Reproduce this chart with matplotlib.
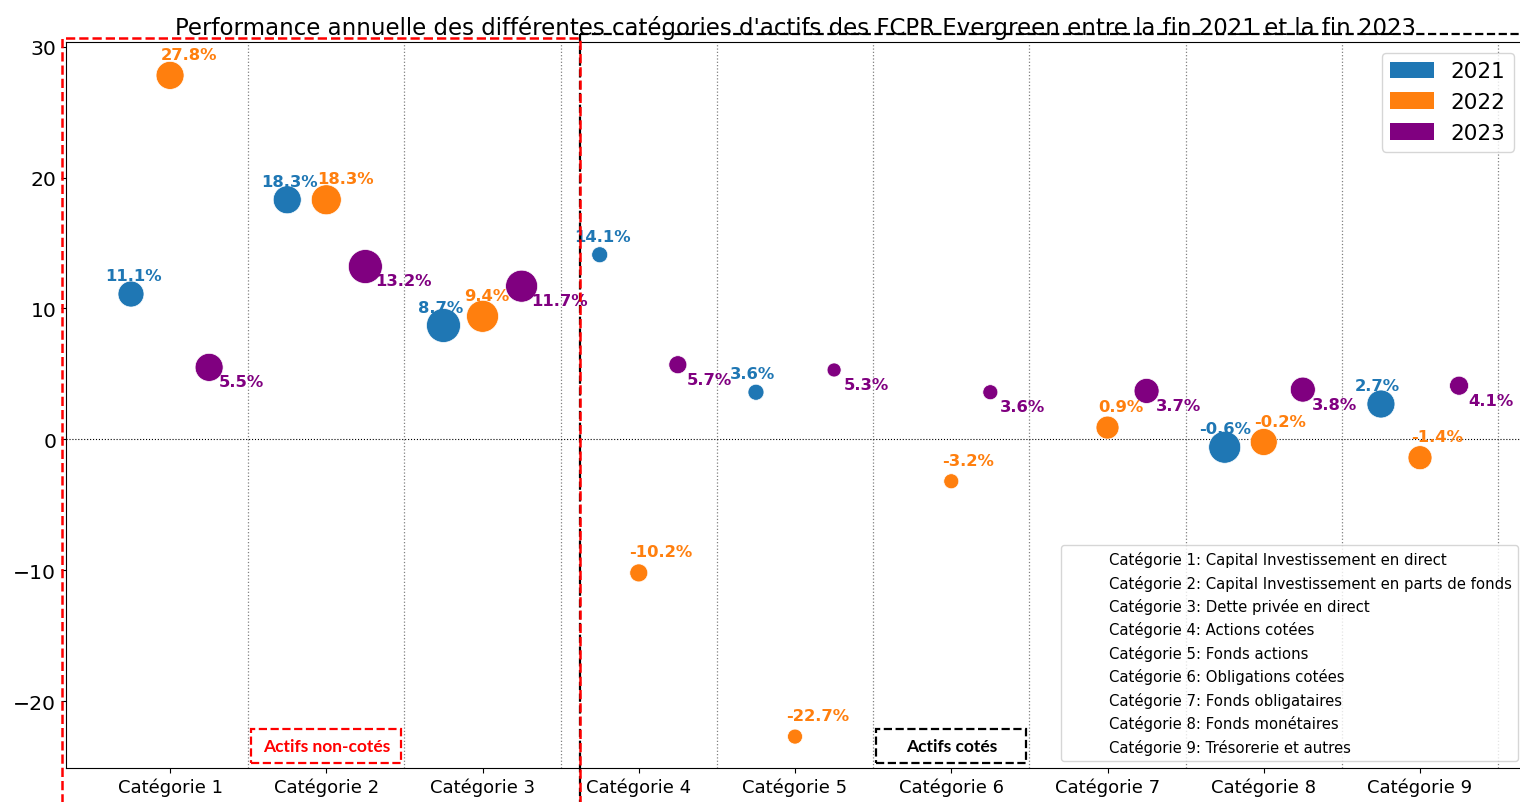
import numpy as np
import matplotlib
matplotlib.use("Agg")
import matplotlib.pyplot as plt
from matplotlib.patches import Rectangle, Patch
from matplotlib.lines import Line2D

categories = ["Catégorie 1", "Catégorie 2", "Catégorie 3", "Catégorie 4", "Catégorie 5",
              "Catégorie 6", "Catégorie 7", "Catégorie 8", "Catégorie 9"]
category_names = ["Capital Investissement en direct",
                  "Capital Investissement en parts de fonds",
                  "Dette privée en direct",
                  "Actions cotées",
                  "Fonds actions",
                  "Obligations cotées",
                  "Fonds obligataires",
                  "Fonds monétaires",
                  "Trésorerie et autres"]
years = ["2021", "2022", "2023"]
perf_2021 = [11.1, 18.3, 8.7, 14.1, 3.6, np.nan, np.nan, -0.6, 2.7]
perf_2022 = [27.8, 18.3, 9.4, -10.2, -22.7, -3.2, 0.9, -0.2, -1.4]
perf_2023 = [5.5, 13.2, 11.7, 5.7, 5.3, 3.6, 3.7, 3.8, 4.1]
# bubble weights (relative diameters)
weight_2021 = [26, 28, 34, 16, 16, np.nan, np.nan, 32, 28]
weight_2022 = [28, 30, 32, 18, 15, 15, 23, 27, 24]
weight_2023 = [28, 34, 32, 18, 14, 15, 25, 25, 19]

colors = ["#1f77b4", "#ff7f0e", "purple"]

W, H = 1520, 803
fig = plt.figure(figsize=(W / 100, H / 100), dpi=100)
ax = fig.add_axes([66 / W, (H - 769) / H, (1525 - 66) / W, (769 - 43) / H])

x = np.arange(len(categories))
offsets = [-0.25, 0.0, 0.25]
series = [perf_2021, perf_2022, perf_2023]
weights = [weight_2021, weight_2022, weight_2023]

for i, (vals, wts, col, off) in enumerate(zip(series, weights, colors, offsets)):
    vals = np.array(vals, dtype=float)
    wts = np.array(wts, dtype=float)
    sizes = (wts * 0.72) ** 2
    ax.scatter(x + off, vals, s=sizes, color=col, edgecolors="white",
               linewidths=0.5, zorder=3)
    for xi, v in zip(x + off, vals):
        if np.isnan(v):
            continue
        lab = f"{v:.1f}%"
        if i == 0:
            ax.text(xi - 0.165, v + 1.4, lab, color=col, fontsize=11.8,
                    fontweight="bold", ha="left", va="center", zorder=4)
        elif i == 1:
            dx = -0.115 if abs(v - 9.4) < 1e-6 else -0.06
            ax.text(xi + dx, v + 1.6, lab, color=col, fontsize=11.8,
                    fontweight="bold", ha="left", va="center", zorder=4)
        else:
            ax.text(xi + 0.06, v - 1.1, lab, color=col, fontsize=11.8,
                    fontweight="bold", ha="left", va="center", zorder=4)

for b in np.arange(0.5, len(categories), 1.0):
    ax.axvline(b, color="gray", linestyle=":", linewidth=0.9, zorder=1)
ax.axhline(0, color="black", linestyle=":", linewidth=0.8, zorder=1)

ax.set_xlim(-0.666, 8.672)
ax.set_ylim(-25.1, 30.35)
ax.set_xticks(x)
ax.set_xticklabels(categories, fontsize=13)
ax.set_yticks([-20, -10, 0, 10, 20, 30])
ax.tick_params(axis="y", labelsize=14.7)
ax.set_title("Performance annuelle des différentes catégories d'actifs des FCPR Evergreen entre la fin 2021 et la fin 2023",
             fontsize=16.5)

# small group label boxes
for ci, txt, col in [(1, "Actifs non-cotés", "red"), (5, "Actifs cotés", "black")]:
    ax.add_patch(Rectangle((ci - 0.48, -24.7), 0.96, 2.6, fill=False,
                           edgecolor=col, linestyle="--", linewidth=1.6, zorder=2))
    ax.text(ci, -23.4, txt, color=col, fontsize=12.5, fontweight="bold",
            family="Lato", ha="center", va="center", zorder=4)

# large dashed group frames (figure coords)
def fx(px):
    return px / W

def fy(py):
    return (H - py) / H

fig.add_artist(Line2D([fx(580), fx(1530)], [fy(35), fy(35)], color="black",
                      linestyle="--", linewidth=1.6, transform=fig.transFigure))
fig.add_artist(Line2D([fx(580), fx(580)], [fy(35), fy(810)], color="black",
                      linestyle="--", linewidth=1.6, transform=fig.transFigure))
fig.add_artist(Line2D([fx(62), fx(62), fx(580), fx(580)],
                      [fy(810), fy(38.5), fy(38.5), fy(810)], color="red",
                      linestyle="--", linewidth=1.8, transform=fig.transFigure))

# legends
handles = [Patch(facecolor=c, edgecolor="none") for c in colors]
leg1 = ax.legend(handles, years, loc="upper right", fontsize=15.5,
                 handleheight=0.8)
ax.add_artist(leg1)
cat_handles = [Line2D([], [], linestyle="none") for _ in categories]
cat_labels = [f"{c}: {n}" for c, n in zip(categories, category_names)]
ax.legend(cat_handles, cat_labels, loc="lower right", fontsize=10.7,
          labelspacing=0.5)

fig.savefig("out.png", dpi=100)
